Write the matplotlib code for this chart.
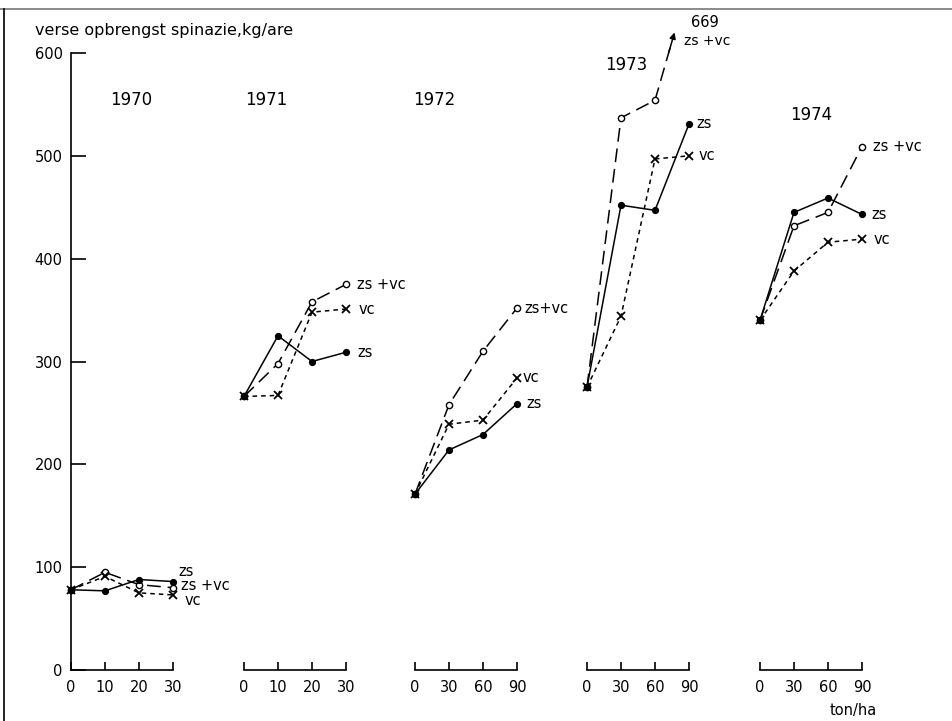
import matplotlib
matplotlib.use("Agg")
import matplotlib.pyplot as plt
from matplotlib.lines import Line2D
from matplotlib.transforms import Bbox, TransformedBbox

# ---------------- data ----------------
years = ["1970", "1971", "1972", "1973", "1974"]
doses = [[0, 10, 20, 30], [0, 10, 20, 30], [0, 30, 60, 90], [0, 30, 60, 90], [0, 30, 60, 90]]
dose_labels = [["0", "10", "20", "30"], ["0", "10", "20", "30"],
               ["0", "30", "60", "90"], ["0", "30", "60", "90"], ["0", "30", "60", "90"]]
zs_yield = [[78, 77, 88, 86], [266, 325, 300, 309], [171, 214, 229, 259],
            [275, 452, 447, 531], [340, 445, 459, 443]]
vc_yield = [[78, 91, 75, 73], [266, 267, 348, 351], [171, 239, 243, 284],
            [275, 344, 497, 500], [340, 388, 416, 419]]
zsvc_yield = [[78, 95, 83, 80], [266, 298, 358, 375], [171, 258, 310, 352],
              [275, 537, 554, 669], [340, 432, 445, 509]]
series_names = ["zs", "vc", "zs +vc"]
series_labels = [["zs", "vc", "zs +vc"], ["zs", "vc", "zs +vc"], ["zs", "vc", "zs+vc"],
                 ["zs", "vc", "zs +vc"], ["zs", "vc", "zs +vc"]]
y_ticks = [0, 100, 200, 300, 400, 500, 600]
y_title = "verse opbrengst spinazie,kg/are"
x_unit = "ton/ha"

# ---------------- layout ----------------
W, H = 953, 721
fig = plt.figure(figsize=(W / 100, H / 100), dpi=100)
plt.rcParams["font.family"] = ["DejaVu Sans"]

YTOP = 620
px_per_unit = (670 - 53) / 600.0
bottom = (H - 670) / H
height = YTOP * px_per_unit / H
starts = [71, 244, 415, 587, 760]
gw = 102

lw = 1.1
styles = {
    "zs": dict(color="black", lw=lw, ls="-", marker="o", ms=4.2, mfc="black", mec="black"),
    "vc": dict(color="black", lw=lw, dashes=(3, 2.6), marker="x", ms=6.0, mew=1.3, mec="black"),
    "zs +vc": dict(color="black", lw=lw, dashes=(9, 4.5), marker="o", ms=4.5, mfc="white",
                   mec="black", mew=1.0),
}

# label offsets (points) relative to last point, per group: zs, vc, zs+vc
lab_off = [
    [(4, 7), (8, -4), (6, 1.5)],
    [(8, 0), (9, 0), (8, 0)],
    [(7, 0), (4, 0), (5, 0)],
    [(5, 0), (7, 0), None],
    [(7, 0), (8, 0), (8, 0)],
]
year_pos = [(17.8, 554), (6.6, 554), (16.8, 554), (35, 588), (45, 540)]

FS = 10.5
axes = []
for i in range(5):
    ax = fig.add_axes([starts[i] / W, bottom, gw / W, height])
    axes.append(ax)
    xs = doses[i]
    ax.set_xlim(0, xs[-1])
    ax.set_ylim(0, YTOP)
    for s in ["top", "right"]:
        ax.spines[s].set_visible(False)
    ax.spines["bottom"].set_bounds(0, xs[-1])
    ax.spines["bottom"].set_linewidth(1.2)
    ax.set_xticks(xs)
    ax.set_xticklabels(dose_labels[i])
    ax.tick_params(axis="x", direction="in", length=6, width=1.2, pad=7, labelsize=FS)
    if i == 0:
        ax.spines["left"].set_bounds(0, 600)
        ax.spines["left"].set_linewidth(1.2)
        ax.set_yticks(y_ticks)
        ax.set_yticklabels([str(v) for v in y_ticks])
        ax.tick_params(axis="y", direction="in", length=11, width=1.2, pad=6, labelsize=FS)
    else:
        ax.spines["left"].set_visible(False)
        ax.set_yticks([])
    ax.patch.set_visible(False)

    for k, (name, data) in enumerate(zip(series_names, [zs_yield, vc_yield, zsvc_yield])):
        st = dict(styles[name])
        ax.plot(xs, data[i], clip_on=False, zorder=3 - k * 0.1, **st)
        off = lab_off[i][k]
        lab = series_labels[i][k]
        if off is not None:
            ax.annotate(lab, xy=(xs[-1], data[i][-1]), xytext=off, textcoords="offset points",
                        ha="left", va="center", fontsize=FS, annotation_clip=False)
        else:
            # off-scale point: arrow where the line leaves the axes
            x0, y0 = xs[-2], data[i][-2]
            x1, y1 = xs[-1], data[i][-1]
            t = (YTOP - y0) / (y1 - y0)
            xt = x0 + t * (x1 - x0)
            t2 = (YTOP - 20 - y0) / (y1 - y0)
            xb = x0 + t2 * (x1 - x0)
            ax.annotate("", xy=(xt, YTOP), xytext=(xb, YTOP - 20),
                        arrowprops=dict(arrowstyle="-|>", color="black", lw=lw,
                                        mutation_scale=9, shrinkA=0, shrinkB=0),
                        annotation_clip=False)
            ax.annotate(str(y1), xy=(xt, YTOP), xytext=(12, 7), textcoords="offset points",
                        ha="left", va="center", fontsize=FS, annotation_clip=False)
            ax.annotate(lab, xy=(xt, YTOP), xytext=(7, -6), textcoords="offset points",
                        ha="left", va="center", fontsize=FS - 0.5, annotation_clip=False)

    ax.text(year_pos[i][0], year_pos[i][1], years[i], ha="center", va="center",
            fontsize=FS + 1.5)

# the 1973 group keeps vertical clipping only (off-scale line)
ax3 = axes[3]
clipbox = TransformedBbox(Bbox([[-20, -50], [120, YTOP - 8]]), ax3.transData)
for ln in ax3.get_lines():
    ln.set_clip_box(clipbox)
    ln.set_clip_on(True)

axes[4].annotate(x_unit, xy=(1, 0), xycoords="axes fraction", xytext=(-6, -29),
                 textcoords="offset points", ha="center", va="center", fontsize=FS)

fig.text(35 / W, 1 - 30 / H, y_title, ha="left", va="center", fontsize=FS + 1)

# scan border lines
fig.add_artist(Line2D([0, 1], [1 - 9 / H, 1 - 9 / H], color="#777777", lw=1.2))
fig.add_artist(Line2D([4 / W, 4 / W], [0, 1 - 9 / H], color="black", lw=1.2))

fig.savefig("out.png", dpi=100)
